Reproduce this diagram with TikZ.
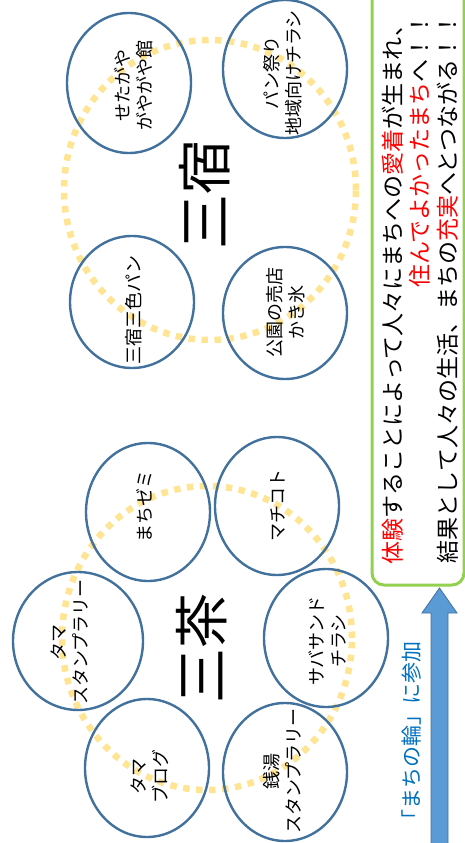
\documentclass[tikz,border=0pt]{standalone}
\usepackage{fontspec}
\setmainfont{Noto Sans CJK JP}
\usetikzlibrary{shapes.geometric}
\definecolor{ringblue}{RGB}{65,113,156}
\definecolor{dotyellow}{RGB}{255,228,148}
\definecolor{boxgreen}{RGB}{146,208,80}
\definecolor{arrowfill}{RGB}{91,155,213}
\definecolor{arrowline}{RGB}{65,113,156}
\definecolor{textblue}{RGB}{0,112,192}
\definecolor{textred}{RGB}{255,0,0}
\begin{document}
\begin{tikzpicture}[x=1pt,y=-1pt,
  bubble/.style={ellipse, draw=ringblue, line width=2.4pt, inner sep=0pt, minimum width=124pt, minimum height=138pt},
  ring/.style={ellipse, draw=dotyellow, line width=6.5pt, dash pattern=on 6.5pt off 6.5pt, inner sep=0pt},
  lbl/.style={rotate=90, font=\fontsize{18}{22}\selectfont, align=center, inner sep=0pt},
  bigtxt/.style={rotate=90, font=\fontsize{55}{60}\selectfont, inner sep=0pt},
  msg/.style={rotate=90, font=\fontsize{23}{27.5}\selectfont, align=right, inner sep=0pt}]
\useasboundingbox (0,0) rectangle (465,843);

% green box
\draw[boxgreen, line width=3pt, rounded corners=12pt] (372,-30) rectangle (464,585);

% dotted rings
\node[ring, minimum width=292pt, minimum height=300pt] (ringU) at (210,190) {};
\node[ring, minimum width=290pt, minimum height=304pt] (ringL) at (207,638) {};

% upper bubbles
\node[bubble, minimum height=140pt] (u1) at (129,83) {};
\node[bubble, minimum height=138pt] (u2) at (285,69) {};
\node[bubble, minimum height=132pt] (u3) at (132,302) {};
\node[bubble, minimum height=132pt] (u4) at (285,313) {};
% lower bubbles
\node[bubble] (l1) at (148,512) {};
\node[bubble] (l2) at (277,506) {};
\node[bubble, minimum width=130pt] (l3) at (78,641) {};
\node[bubble] (l4) at (326,638) {};
\node[bubble] (l5) at (147,768) {};
\node[bubble] (l6) at (285,772) {};

% labels
\node[lbl] (t1) at (134,85) {せたがや\\がやがや館};
\node[lbl] (t2) at (283,73) {パン祭り\\地域向けチラシ};
\node[lbl] (t3) at (134,310) {三宿三色パン};
\node[lbl] (t4) at (286,312) {公園の売店\\かき氷};
\node[lbl] (t5) at (145,506) {まちゼミ};
\node[lbl] (t6) at (278,505) {マチコト};
\node[lbl] (t7) at (70,642) {タマ\\スタンプラリー};
\node[lbl] (t8) at (327,641) {サバサンド\\チラシ};
\node[lbl] (t9) at (150,776) {タマ\\ブログ};
\node[lbl] (t10) at (282,771) {銭湯\\スタンプラリー};

\node[bigtxt] (sanshuku) at (205,194) {三宿};
\node[bigtxt] (sancha) at (202,648) {三茶};

% message
\node[msg] (message) at (420,289) {\textcolor{textred}{体験}することによって人々にまちへの\textcolor{textred}{愛着}が生まれ、\\
\textcolor{textred}{住んでよかったまち}へ！！\\
結果として人々の生活、まちの\textcolor{textred}{充実}へとつながる！！};

% arrow
\coordinate (atip) at (439.5,588);
\coordinate (abase) at (439.5,843);
\draw[fill=arrowfill, draw=arrowline, line width=0.8pt, line join=miter]
  (431,845) -- (431,613) -- (422,613) -- (atip) -- (457,613) -- (448,613) -- (448,845) -- cycle;
\node[rotate=90, font=\fontsize{21}{24}\selectfont, text=textblue, inner sep=0pt] (join) at (412,736) {「まちの輪」に参加};
\end{tikzpicture}
\end{document}
